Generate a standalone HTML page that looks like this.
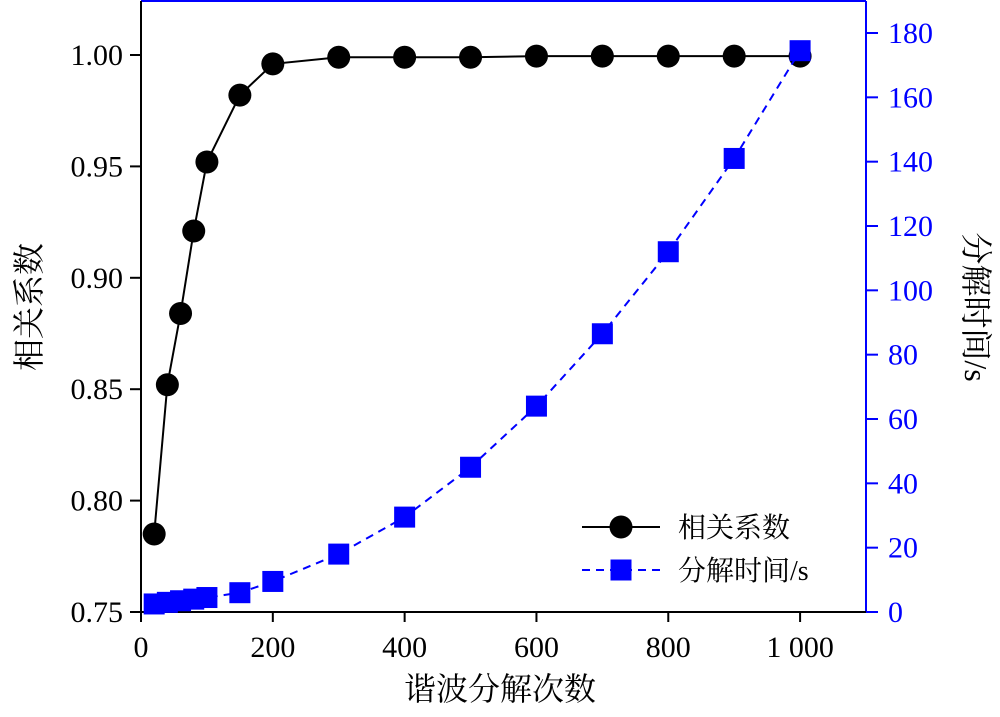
<!DOCTYPE html>
<html><head><meta charset="utf-8"><style>
body{margin:0;background:#fff}
svg text{font-family:"Liberation Serif","Noto Serif CJK SC",serif;font-size:30px}
svg text.title{font-size:32px}
</style></head><body>
<svg width="1000" height="712" id="c">
</svg>
<script>
const xs=[20,40,60,80,100,150,200,300,400,500,600,700,800,900,1000];
const corr=[0.785,0.852,0.884,0.921,0.952,0.982,0.996,0.999,0.999,0.999,0.9995,0.9995,0.9995,0.9995,0.9995];
const time=[2.5,3,3.5,4,4.5,6,9.5,18,29.5,45,64,86.5,112,141,174.5];
const xTicks=[0,200,400,600,800,1000];
const xTickLabels=["0","200","400","600","800","1 000"];
const yLTicks=[0.75,0.80,0.85,0.90,0.95,1.00];
const yRTicks=[0,20,40,60,80,100,120,140,160,180];
const L=141,R=866,T=1,B=612;
const X=v=>L+v*(R-L)/1100;
const YL=v=>B-(v-0.75)*(557/0.25);
const YR=v=>B-v*(579/180);
const svg=document.getElementById('c');
const NS='http://www.w3.org/2000/svg';
function mk(t,a,p){const e=document.createElementNS(NS,t);for(const k in a)e.setAttribute(k,a[k]);(p||svg).appendChild(e);return e;}
let e;
e=mk('line',{x1:L,y1:T,x2:R,y2:T,stroke:'#00f','stroke-width':2});


e=mk('line',{x1:R,y1:T,x2:R,y2:B+1,stroke:'#00f','stroke-width':2});


e=mk('line',{x1:L,y1:T,x2:L,y2:B+1,stroke:'#000','stroke-width':2});


e=mk('line',{x1:L-11,y1:B,x2:R,y2:B,stroke:'#000','stroke-width':2});


xTicks.forEach((v,i)=>{
 const t=mk('line',{x1:X(v),y1:B,x2:X(v),y2:B+10,stroke:'#000','stroke-width':2});
 
 
 const l=mk('text',{x:X(v),y:B+45,'text-anchor':'middle'});l.textContent=xTickLabels[i];
 
 
});
yLTicks.forEach(v=>{
 const t=mk('line',{x1:L-11,y1:YL(v),x2:L,y2:YL(v),stroke:'#000','stroke-width':2});
 
 
 const l=mk('text',{x:L-18,y:YL(v)+10,'text-anchor':'end'});l.textContent=v.toFixed(2);
 
 
});
yRTicks.forEach(v=>{
 const t=mk('line',{x1:R,y1:YR(v),x2:R+12,y2:YR(v),stroke:'#00f','stroke-width':2});
 
 
 const l=mk('text',{x:R+22,y:YR(v)+10,fill:'#00f'});l.textContent=v;
 
 
});
e=mk('text',{x:500,y:700,'text-anchor':'middle',class:'title'});e.textContent='谐波分解次数';


e=mk('text',{x:0,y:0,'text-anchor':'middle',class:'title',transform:'translate(40,307) rotate(-90)'});e.textContent='相关系数';


e=mk('text',{x:0,y:0,'text-anchor':'middle',class:'title',transform:'translate(965,307) rotate(90)'});e.textContent='分解时间/s';


e=mk('polyline',{points:xs.map((v,i)=>X(v)+','+YL(corr[i])).join(' '),fill:'none',stroke:'#000','stroke-width':2});


xs.forEach((v,i)=>{const c=mk('circle',{cx:X(v),cy:YL(corr[i]),r:11.5,fill:'#000'});
 
 });
e=mk('polyline',{points:xs.map((v,i)=>X(v)+','+YR(time[i])).join(' '),fill:'none',stroke:'#00f','stroke-width':2,'stroke-dasharray':'8,6'});


xs.forEach((v,i)=>{const c=mk('rect',{x:X(v)-10.5,y:YR(time[i])-10.5,width:21,height:21,fill:'#00f'});
 
 });
const g=mk('g',{});


mk('line',{x1:582,y1:527,x2:660,y2:527,stroke:'#000','stroke-width':2},g);
mk('circle',{cx:621,cy:527,r:11.5,fill:'#000'},g);
e=mk('text',{x:678,y:537},g);e.style.fontSize='28px';e.textContent='相关系数';


mk('line',{x1:582,y1:570,x2:660,y2:570,stroke:'#00f','stroke-width':2,'stroke-dasharray':'8,6'},g);
mk('rect',{x:610.5,y:559.5,width:21,height:21,fill:'#00f'},g);
e=mk('text',{x:678,y:580},g);e.style.fontSize='28px';e.textContent='分解时间/s';


</script>
</body></html>
